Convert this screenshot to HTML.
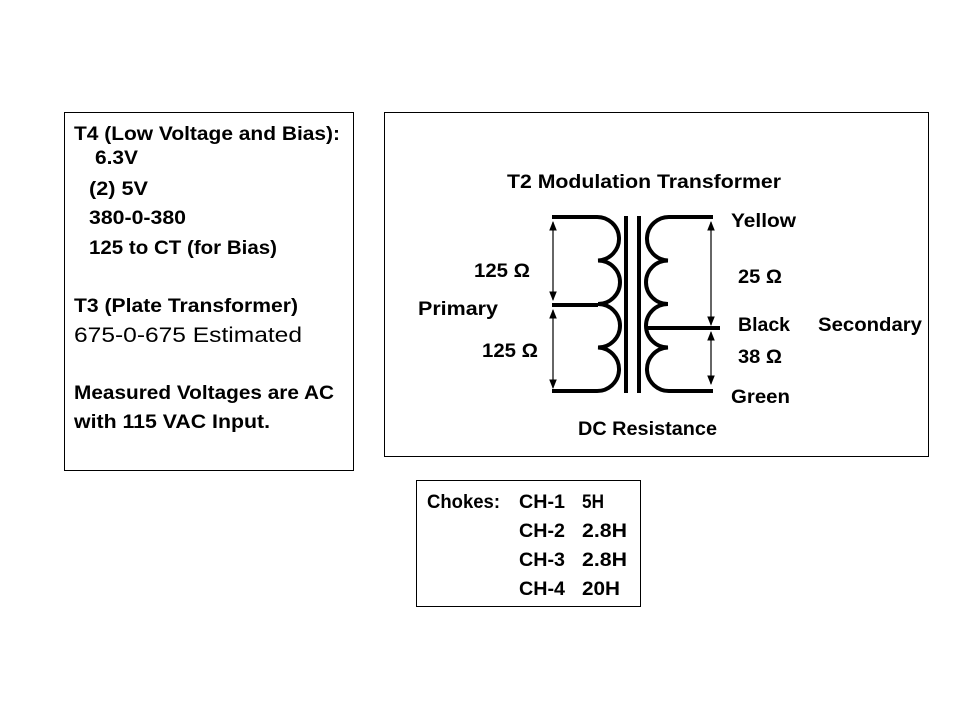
<!DOCTYPE html>
<html><head><meta charset="utf-8"><style>
html,body{margin:0;padding:0;background:#fff;}
text{font-family:"Liberation Sans",sans-serif;font-weight:bold;font-size:19px;fill:#000;}
</style></head><body>
<svg width="960" height="720" viewBox="0 0 960 720" xmlns="http://www.w3.org/2000/svg">
<defs><marker id="ah" viewBox="0 0 10 10" refX="9" refY="5" markerWidth="8" markerHeight="8" orient="auto-start-reverse"><path d="M0,1 L10,5 L0,9 z" fill="#000"/></marker></defs>
<rect x="64.5" y="112.5" width="289" height="358" fill="none" stroke="#000" stroke-width="1"/>
<rect x="384.5" y="112.5" width="544" height="344" fill="none" stroke="#000" stroke-width="1"/>
<rect x="416.5" y="480.5" width="224" height="126" fill="none" stroke="#000" stroke-width="1"/>

<text x="74" y="140" textLength="266" lengthAdjust="spacingAndGlyphs">T4  (Low Voltage and Bias):</text>
<text x="95" y="164" textLength="43" lengthAdjust="spacingAndGlyphs">6.3V</text>
<text x="89" y="195" textLength="59" lengthAdjust="spacingAndGlyphs">(2) 5V</text>
<text x="89" y="224" textLength="97" lengthAdjust="spacingAndGlyphs">380-0-380</text>
<text x="89" y="254" textLength="188" lengthAdjust="spacingAndGlyphs">125 to CT (for Bias)</text>
<text x="74" y="312" textLength="224" lengthAdjust="spacingAndGlyphs">T3 (Plate Transformer)</text>
<text x="74" y="342" textLength="228" lengthAdjust="spacingAndGlyphs" style="font-weight:normal;font-size:21px">675-0-675 Estimated</text>
<text x="74" y="399" textLength="260" lengthAdjust="spacingAndGlyphs">Measured Voltages are AC</text>
<text x="74" y="428" textLength="196" lengthAdjust="spacingAndGlyphs">with 115 VAC Input.</text>

<text x="507" y="188" textLength="274" lengthAdjust="spacingAndGlyphs">T2 Modulation Transformer</text>
<text x="731" y="227" textLength="65" lengthAdjust="spacingAndGlyphs">Yellow</text>
<text x="474" y="277" textLength="56" lengthAdjust="spacingAndGlyphs">125 Ω</text>
<text x="738" y="283" textLength="44" lengthAdjust="spacingAndGlyphs">25 Ω</text>
<text x="418" y="315" textLength="80" lengthAdjust="spacingAndGlyphs">Primary</text>
<text x="738" y="331" textLength="52" lengthAdjust="spacingAndGlyphs">Black</text>
<text x="818" y="331" textLength="104" lengthAdjust="spacingAndGlyphs">Secondary</text>
<text x="482" y="357" textLength="56" lengthAdjust="spacingAndGlyphs">125 Ω</text>
<text x="738" y="363" textLength="44" lengthAdjust="spacingAndGlyphs">38 Ω</text>
<text x="731" y="403" textLength="59" lengthAdjust="spacingAndGlyphs">Green</text>
<text x="578" y="435" textLength="139" lengthAdjust="spacingAndGlyphs">DC Resistance</text>

<g fill="none" stroke="#000" stroke-width="4">
<path d="M552,217 L596,217 A22,21.75 0 0 1 598,260.5 A22,21.75 0 0 1 598,304 A22,21.75 0 0 1 598,347.5 A22,21.75 0 0 1 596,391 L552,391"/>
<path d="M552,305 L598,305"/>
<path d="M713,217 L670,217 A22,21.75 0 0 0 668,260.5 A22,21.75 0 0 0 668,304 A22,21.75 0 0 0 668,347.5 A22,21.75 0 0 0 670,391 L713,391"/>
<path d="M648,328 L720,328"/>
<path d="M626,216 V393 M639,216 V393"/>
</g>
<g stroke="#000" stroke-width="1.2" marker-start="url(#ah)" marker-end="url(#ah)">
<line x1="553" y1="222" x2="553" y2="300"/>
<line x1="553" y1="310" x2="553" y2="388"/>
<line x1="711" y1="222" x2="711" y2="325"/>
<line x1="711" y1="332" x2="711" y2="384"/>
</g>

<text x="427" y="508" textLength="73" lengthAdjust="spacingAndGlyphs">Chokes:</text>
<text x="519" y="508" textLength="46" lengthAdjust="spacingAndGlyphs">CH-1</text>
<text x="582" y="508" textLength="22" lengthAdjust="spacingAndGlyphs">5H</text>
<text x="519" y="537" textLength="46" lengthAdjust="spacingAndGlyphs">CH-2</text>
<text x="582" y="537" textLength="45" lengthAdjust="spacingAndGlyphs">2.8H</text>
<text x="519" y="566" textLength="46" lengthAdjust="spacingAndGlyphs">CH-3</text>
<text x="582" y="566" textLength="45" lengthAdjust="spacingAndGlyphs">2.8H</text>
<text x="519" y="595" textLength="46" lengthAdjust="spacingAndGlyphs">CH-4</text>
<text x="582" y="595" textLength="38" lengthAdjust="spacingAndGlyphs">20H</text>
</svg>
</body></html>
